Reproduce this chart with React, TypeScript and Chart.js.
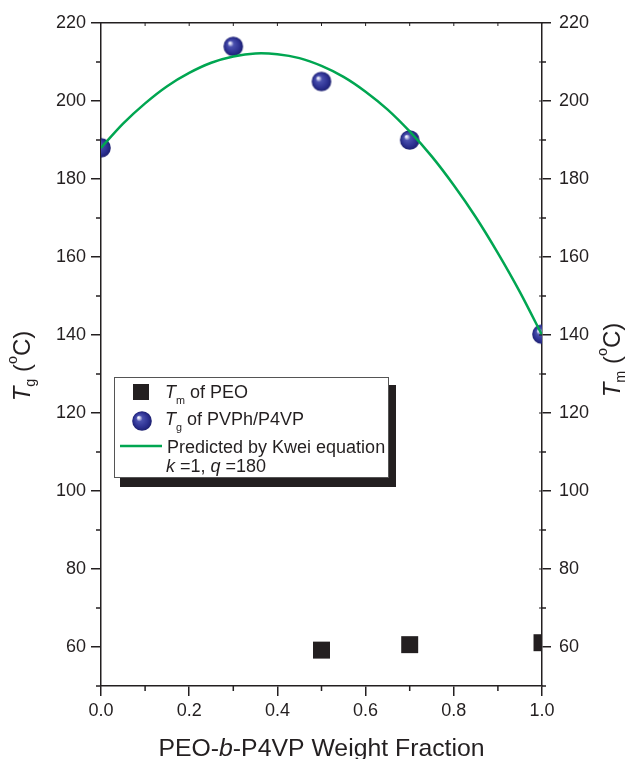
import React, { useEffect, useRef } from "react";
import { Chart, registerables } from "chart.js";

Chart.register(...registerables);

// ---- data ----
const tgFractions = [0, 0.3, 0.5, 0.7, 1.0];
const tgValues = [188, 214, 205, 190, 140.2];

const tmFractions = [0.5, 0.7, 1.0];
const tmValues = [59.2, 60.6, 61.1];

const kweiFractions = [0, 0.05, 0.1, 0.15, 0.2, 0.25, 0.3, 0.35, 0.4, 0.45, 0.5, 0.55, 0.6, 0.65, 0.7, 0.75, 0.8, 0.85, 0.9, 0.95, 1.0];
const kweiValues = [188, 194.2, 199.4, 203.8, 207.2, 209.8, 211.4, 212.2, 212.0, 211.0, 209.0, 206.2, 202.4, 197.8, 192.2, 185.8, 178.4, 170.2, 161.0, 151.0, 140];

const xTicks = [0, 0.2, 0.4, 0.6, 0.8, 1.0];
const xMinorTicks = [0.1, 0.3, 0.5, 0.7, 0.9];
const xTopInnerTicks = [0.1, 0.2, 0.3, 0.4, 0.5, 0.6, 0.7, 0.8, 0.9];
const yTicks = [60, 80, 100, 120, 140, 160, 180, 200, 220];
const yMinorTicks = [50, 70, 90, 110, 130, 150, 170, 190, 210];
const yRightInnerTicks = [60, 70, 80, 90, 100, 110, 120, 130, 140, 150, 160, 170, 180, 190, 200, 210];

const legendLabels = ["of PEO", "of PVPh/P4VP", "Predicted by Kwei equation", "=1,", "=180"];

const INK = "#231F20";
const GREEN = "#00A651";
const FONT = "'Liberation Sans', Arial, Helvetica, sans-serif";

type Part = { t: string; italic?: boolean; sub?: boolean; sup?: boolean };

function partFont(p: Part, fs: number) {
  const size = p.sub || p.sup ? fs * 0.6 : fs;
  return `${p.italic ? "italic " : ""}${size}px ${FONT}`;
}

function measureRich(ctx: CanvasRenderingContext2D, parts: Part[], fs: number) {
  let w = 0;
  for (const p of parts) {
    ctx.font = partFont(p, fs);
    w += ctx.measureText(p.t).width;
  }
  return w;
}

function drawRich(ctx: CanvasRenderingContext2D, x: number, y: number, parts: Part[], fs: number) {
  let cx = x;
  for (const p of parts) {
    ctx.font = partFont(p, fs);
    const dy = p.sub ? fs * 0.32 : p.sup ? -fs * 0.42 : 0;
    ctx.fillText(p.t, cx, y + dy);
    cx += ctx.measureText(p.t).width;
  }
}

function makeSphere(r: number) {
  const c = document.createElement("canvas");
  const s = Math.ceil(r * 2) + 2;
  c.width = s;
  c.height = s;
  const g = c.getContext("2d")!;
  const cx = s / 2;
  const cy = s / 2;
  const grad = g.createRadialGradient(cx - r * 0.38, cy - r * 0.38, 0, cx, cy, r);
  grad.addColorStop(0, "#ffffff");
  grad.addColorStop(0.12, "#d6d8f2");
  grad.addColorStop(0.32, "#4a50ae");
  grad.addColorStop(0.75, "#2c3091");
  grad.addColorStop(1, "#1d2070");
  g.fillStyle = grad;
  g.beginPath();
  g.arc(cx, cy, r, 0, Math.PI * 2);
  g.fill();
  return c;
}

export default function App() {
  const ref = useRef<HTMLCanvasElement | null>(null);

  useEffect(() => {
    document.body.style.margin = "0";
    const canvas = ref.current;
    if (!canvas) return;
    const sphere = makeSphere(9.8);

    const decorPlugin = {
      id: "decor",
      afterDraw(chart: any) {
        const ctx: CanvasRenderingContext2D = chart.ctx;
        const { left, right, top, bottom } = chart.chartArea;
        const xs = chart.scales.x;
        const ys = chart.scales.y;
        ctx.save();
        // minor / inner ticks
        ctx.strokeStyle = INK;
        ctx.lineWidth = 1.5;
        ctx.beginPath();
        xMinorTicks.forEach((v) => {
          const px = xs.getPixelForValue(v);
          ctx.moveTo(px, bottom);
          ctx.lineTo(px, bottom + 5);
        });
        yMinorTicks.forEach((v) => {
          const py = ys.getPixelForValue(v);
          ctx.moveTo(left, py);
          ctx.lineTo(left - 5, py);
          ctx.moveTo(right, py);
          ctx.lineTo(right + 4, py);
        });
        ctx.stroke();
        ctx.lineWidth = 1;
        ctx.beginPath();
        xTopInnerTicks.forEach((v) => {
          const px = xs.getPixelForValue(v);
          ctx.moveTo(px, top);
          ctx.lineTo(px, top + 3);
        });
        yRightInnerTicks.forEach((v) => {
          const py = ys.getPixelForValue(v);
          ctx.moveTo(right, py);
          ctx.lineTo(right - 3, py);
        });
        ctx.stroke();

        // axis titles
        ctx.fillStyle = INK;
        ctx.textBaseline = "middle";
        ctx.textAlign = "left";
        const fs = 24;
        const leftTitle: Part[] = [
          { t: "T", italic: true },
          { t: "g", sub: true },
          { t: " (" },
          { t: "o", sup: true },
          { t: "C)" },
        ];
        const rightTitle: Part[] = [
          { t: "T", italic: true },
          { t: "m", sub: true },
          { t: " (" },
          { t: "o", sup: true },
          { t: "C)" },
        ];
        const lw = measureRich(ctx, leftTitle, fs);
        ctx.save();
        ctx.translate(23, 366);
        ctx.rotate(-Math.PI / 2);
        drawRich(ctx, -lw / 2, 0, leftTitle, fs);
        ctx.restore();
        const rw = measureRich(ctx, rightTitle, fs);
        ctx.save();
        ctx.translate(613, 360);
        ctx.rotate(-Math.PI / 2);
        drawRich(ctx, -rw / 2, 0, rightTitle, fs);
        ctx.restore();

        const bottomTitle: Part[] = [
          { t: "PEO-" },
          { t: "b", italic: true },
          { t: "-P4VP Weight Fraction" },
        ];
        ctx.textBaseline = "alphabetic";
        const bfs = 24.8;
        const bw = measureRich(ctx, bottomTitle, bfs);
        drawRich(ctx, (left + right) / 2 - bw / 2, 756, bottomTitle, bfs);

        // legend
        const bx = left + 13;
        const by = top + 354;
        const bwid = 275;
        const bhei = 101;
        ctx.fillStyle = INK;
        ctx.fillRect(bx + 6, by + 8, bwid + 1, bhei + 1);
        ctx.fillStyle = "#ffffff";
        ctx.fillRect(bx, by, bwid, bhei);
        ctx.strokeStyle = "#555555";
        ctx.lineWidth = 1;
        ctx.strokeRect(bx + 0.5, by + 0.5, bwid - 1, bhei - 1);

        ctx.fillStyle = INK;
        ctx.fillRect(bx + 19, by + 7, 16, 16);
        ctx.drawImage(sphere, bx + 28 - sphere.width / 2, by + 44 - sphere.height / 2);
        ctx.strokeStyle = GREEN;
        ctx.lineWidth = 2.5;
        ctx.beginPath();
        ctx.moveTo(bx + 6, by + 69);
        ctx.lineTo(bx + 48, by + 69);
        ctx.stroke();

        ctx.fillStyle = INK;
        ctx.textBaseline = "alphabetic";
        const lfs = 18;
        const tx = bx + 51;
        drawRich(ctx, tx, by + 21, [{ t: "T", italic: true }, { t: "m", sub: true }, { t: " " + legendLabels[0] }], lfs);
        drawRich(ctx, tx, by + 48, [{ t: "T", italic: true }, { t: "g", sub: true }, { t: " " + legendLabels[1] }], lfs);
        drawRich(ctx, tx + 2, by + 76, [{ t: legendLabels[2] }], lfs);
        drawRich(
          ctx,
          tx + 1,
          by + 95,
          [{ t: "k", italic: true }, { t: " " + legendLabels[3] + " " }, { t: "q", italic: true }, { t: " " + legendLabels[4] }],
          lfs
        );
        ctx.restore();
      },
    };

    const tickFont = { family: FONT, size: 18 };
    const gridOpts = (len: number) => ({
      drawOnChartArea: false,
      drawTicks: true,
      tickLength: len,
      color: INK,
      lineWidth: 1.5,
    });
    const borderOpts = { display: true, color: INK, width: 1.5 };

    const chart = new Chart(canvas, {
      type: "scatter",
      data: {
        datasets: [
          {
            label: "Predicted by Kwei equation",
            data: kweiFractions.map((x, i) => ({ x, y: kweiValues[i] })),
            showLine: true,
            borderColor: GREEN,
            borderWidth: 2.5,
            pointRadius: 0,
            tension: 0.3,
            xAxisID: "x",
            yAxisID: "y",
            clip: 0,
          },
          {
            label: "Tm of PEO",
            data: tmFractions.map((x, i) => ({ x, y: tmValues[i] })),
            pointStyle: "rect",
            pointRadius: 12,
            backgroundColor: INK,
            borderColor: INK,
            borderWidth: 0,
            xAxisID: "x",
            yAxisID: "y2",
            clip: 0,
          },
          {
            label: "Tg of PVPh/P4VP",
            data: tgFractions.map((x, i) => ({ x, y: tgValues[i] })),
            pointStyle: sphere,
            pointRadius: 9.8,
            xAxisID: "x",
            yAxisID: "y",
            clip: 0,
          },
        ],
      },
      options: {
        animation: false,
        responsive: true,
        maintainAspectRatio: false,
        layout: { padding: 0 },
        plugins: {
          legend: { display: false },
          tooltip: { enabled: false },
          title: { display: false },
        },
        scales: {
          x: {
            type: "linear",
            position: "bottom",
            min: 0,
            max: 1,
            afterBuildTicks: (s: any) => {
              s.ticks = xTicks.map((v) => ({ value: v }));
            },
            afterFit: (s: any) => {
              s.height = 73;
            },
            ticks: {
              font: tickFont,
              color: INK,
              padding: 4,
              maxRotation: 0,
              autoSkip: false,
              callback: (v: any) => Number(v).toFixed(1),
            },
            grid: gridOpts(10),
            border: borderOpts,
          },
          x2: {
            type: "linear",
            position: "top",
            min: 0,
            max: 1,
            afterFit: (s: any) => {
              s.height = 23;
            },
            ticks: { display: false },
            grid: { display: false, drawTicks: false },
            border: borderOpts,
          },
          y: {
            type: "linear",
            position: "left",
            min: 50,
            max: 220,
            afterBuildTicks: (s: any) => {
              s.ticks = yTicks.map((v) => ({ value: v }));
            },
            afterFit: (s: any) => {
              s.width = 101;
            },
            ticks: { font: tickFont, color: INK, padding: 5, autoSkip: false },
            grid: gridOpts(10),
            border: borderOpts,
          },
          y2: {
            type: "linear",
            position: "right",
            min: 50,
            max: 220,
            afterBuildTicks: (s: any) => {
              s.ticks = yTicks.map((v) => ({ value: v }));
            },
            afterFit: (s: any) => {
              s.width = 90;
            },
            ticks: { font: tickFont, color: INK, padding: 8, autoSkip: false },
            grid: gridOpts(9),
            border: borderOpts,
          },
        },
      },
      plugins: [decorPlugin],
    } as any);

    return () => chart.destroy();
  }, []);

  return (
    <div style={{ position: "relative", width: 632, height: 759 }}>
      <canvas ref={ref} />
    </div>
  );
}
